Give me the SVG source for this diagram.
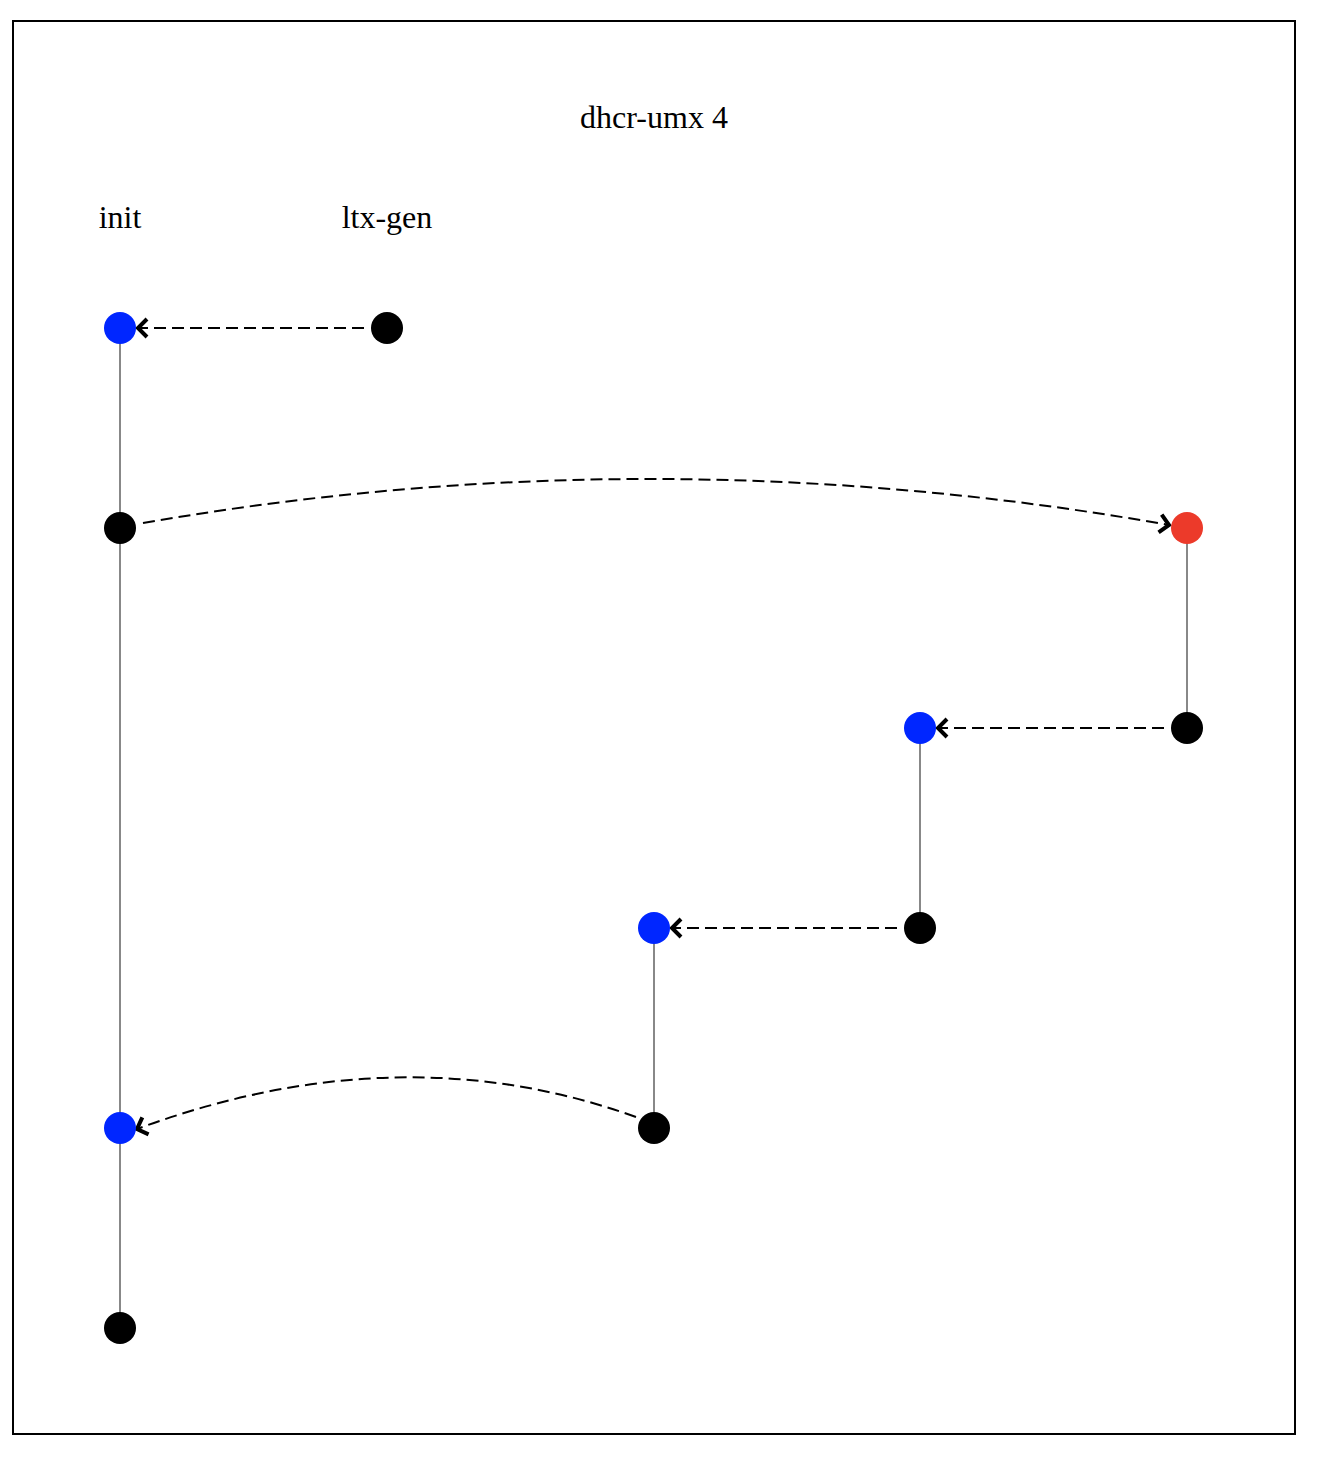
<svg xmlns="http://www.w3.org/2000/svg" width="1322" height="1462" viewBox="0 0 1322 1462">
<style>
.lbl{font-family:"Liberation Serif","Times New Roman",serif;font-size:32px;fill:#000;text-anchor:middle}
.life{stroke:#888;stroke-width:2;fill:none}
.msg{stroke:#000;stroke-width:2;stroke-dasharray:12,6;fill:none;marker-end:url(#chev)}
.blk{fill:#000}.blu{fill:#0026ff}.red{fill:#ec3a2a}
</style>
<defs>
<marker id="chev" viewBox="0 0 16 24" refX="12" refY="12" markerWidth="16" markerHeight="24" markerUnits="userSpaceOnUse" orient="auto">
<path d="M3,3 L12,12 L3,21" fill="none" stroke="#000" stroke-width="4"/>
</marker>
</defs>
<rect x="13" y="21" width="1282" height="1413" fill="#fff" stroke="#000" stroke-width="2"/>
<text class="lbl" x="654" y="128">dhcr-umx 4</text>
<text class="lbl" x="120" y="228">init</text>
<text class="lbl" x="387" y="228">ltx-gen</text>
<g id="lifelines">
<line class="life" x1="120" y1="328" x2="120" y2="1328"/>
<line class="life" x1="1187" y1="528" x2="1187" y2="728"/>
<line class="life" x1="920" y1="728" x2="920" y2="928"/>
<line class="life" x1="654" y1="928" x2="654" y2="1128"/>
</g>
<g id="connectors">
<line class="msg" x1="364" y1="328" x2="138" y2="328"/>
<path class="msg" d="M143,523 Q654,434 1169,525"/>
<line class="msg" x1="1164" y1="728" x2="938" y2="728"/>
<line class="msg" x1="897" y1="928" x2="672" y2="928"/>
<path class="msg" d="M636,1117 Q400,1032 137,1129"/>
</g>
<g id="n1"><circle class="blu" cx="120" cy="328" r="16"/></g>
<g id="n2"><circle class="blk" cx="387" cy="328" r="16"/></g>
<g id="n3"><circle class="blk" cx="120" cy="528" r="16"/></g>
<g id="n4"><circle class="red" cx="1187" cy="528" r="16"/></g>
<g id="n5"><circle class="blk" cx="1187" cy="728" r="16"/></g>
<g id="n6"><circle class="blu" cx="920" cy="728" r="16"/></g>
<g id="n7"><circle class="blk" cx="920" cy="928" r="16"/></g>
<g id="n8"><circle class="blu" cx="654" cy="928" r="16"/></g>
<g id="n9"><circle class="blk" cx="654" cy="1128" r="16"/></g>
<g id="n10"><circle class="blu" cx="120" cy="1128" r="16"/></g>
<g id="n11"><circle class="blk" cx="120" cy="1328" r="16"/></g>
</svg>
